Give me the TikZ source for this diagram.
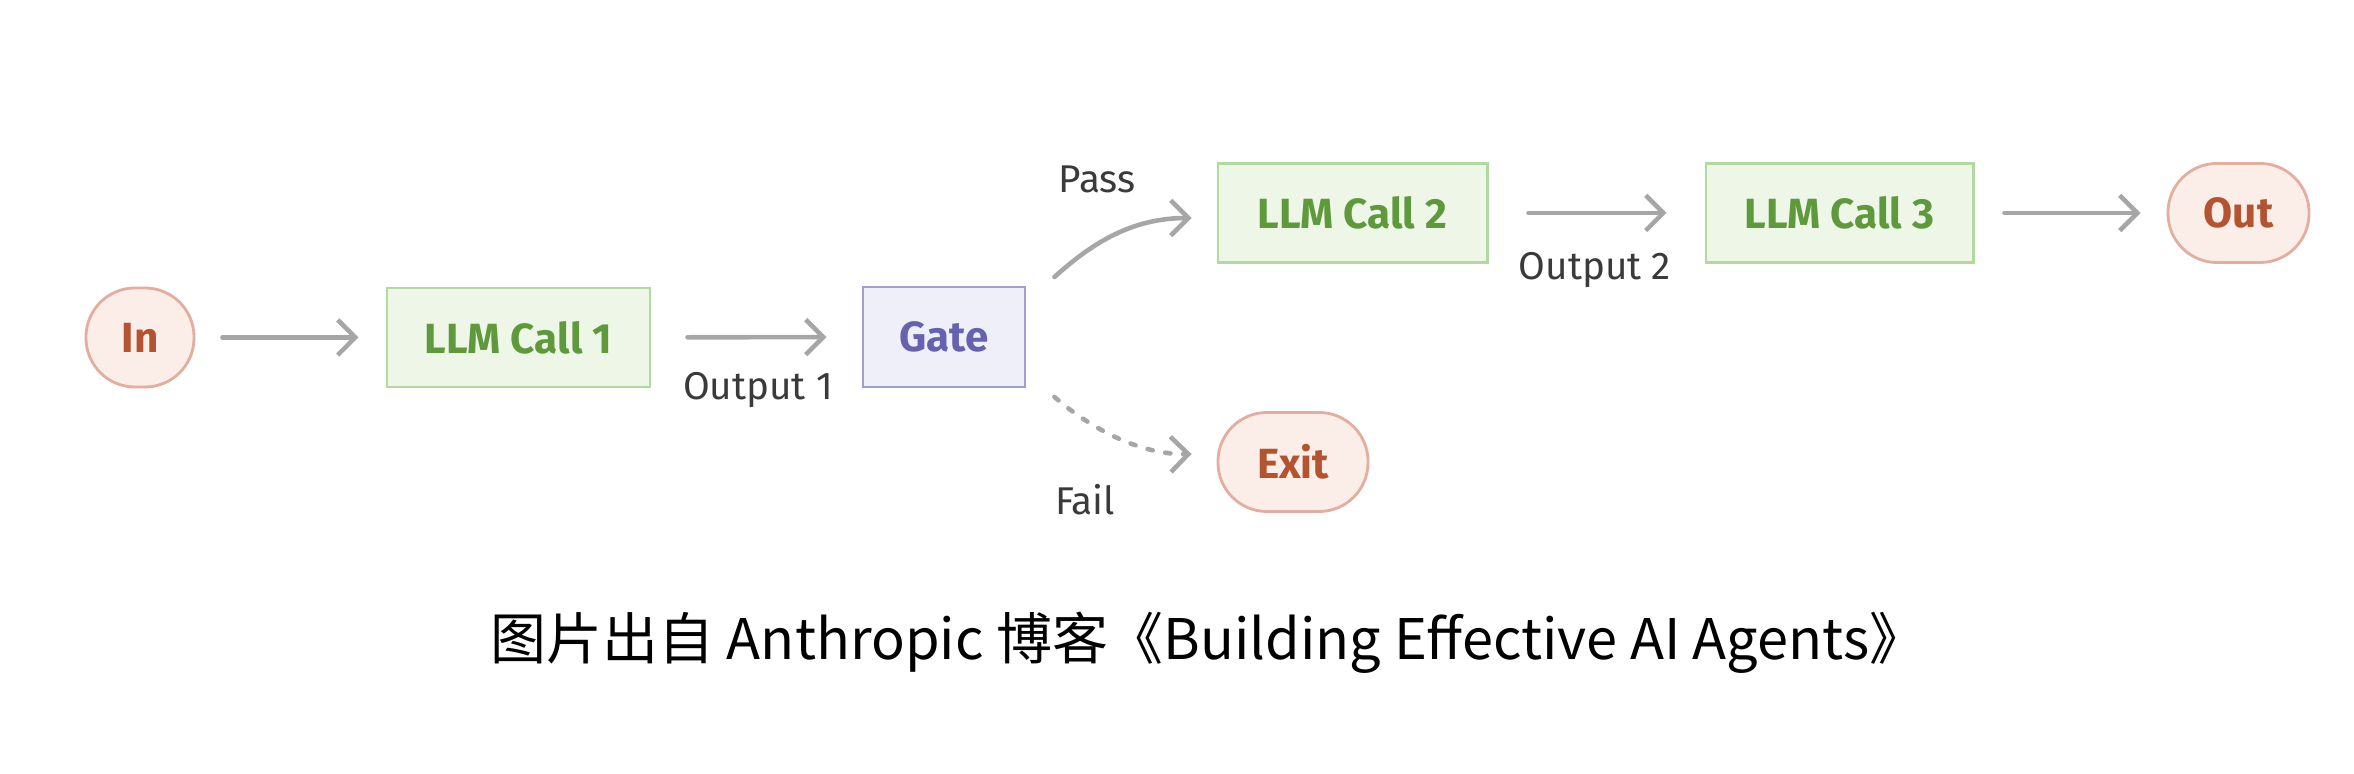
\documentclass[tikz,border=0pt]{standalone}
\usepackage{fontspec}
\setmainfont{Fira Sans}
\newfontfamily\cjk{Noto Sans CJK SC}
\usetikzlibrary{arrows.meta,calc}
\definecolor{termfill}{HTML}{FBEEE9}
\definecolor{termdraw}{HTML}{E3AE9E}
\definecolor{termtext}{HTML}{B4532F}
\definecolor{llmfill}{HTML}{EDF6E7}
\definecolor{llmdraw}{HTML}{B2D9A0}
\definecolor{llmtext}{HTML}{5E9A3B}
\definecolor{gatefill}{HTML}{EFEFF9}
\definecolor{gatedraw}{HTML}{A09ED3}
\definecolor{gatetext}{HTML}{6662AD}
\definecolor{arrowgray}{HTML}{A6A6A6}
\definecolor{labeltext}{HTML}{3A3A3A}
\begin{document}
\begin{tikzpicture}[x=0.01cm,y=-0.01cm,
  boxbase/.style={line width=0.8pt, inner sep=0pt, minimum height=0.99cm,
    font=\bfseries\fontsize{12}{14}\selectfont},
  term/.style={boxbase, draw=termdraw, fill=termfill, text=termtext, rounded corners=0.49cm},
  llm/.style={boxbase, draw=llmdraw, fill=llmfill, text=llmtext},
  gatebox/.style={boxbase, draw=gatedraw, fill=gatefill, text=gatetext},
  flow/.style={draw=arrowgray, line width=1.3pt, line cap=round,
    -{Straight Barb[length=5pt,width=10pt]}},
  lbl/.style={text=labeltext, inner sep=0pt, font=\fontsize{11}{13}\selectfont}]
\useasboundingbox (0,0) rectangle (2354,774);
\fill[white] (0,0) rectangle (2354,774);

\node[term, minimum width=1.08cm] (in) at (140,337.5) {In};
\node[llm, minimum width=2.63cm] (llm1) at (518.5,337.5) {LLM Call 1};
\node[gatebox, minimum width=1.62cm, minimum height=1.0cm] (gate) at (944,337) {Gate};
\node[llm, minimum width=2.69cm] (llm2) at (1352.5,213) {LLM Call 2};
\node[llm, minimum width=2.67cm] (llm3) at (1839.5,213) {LLM Call 3};
\node[term, minimum width=1.41cm] (out) at (2238.5,213) {Out};
\node[term, minimum width=1.50cm] (exit) at (1293,462) {Exit};

\draw[flow, shorten <=0.27cm, shorten >=0.27cm] (in) -- (llm1);
\draw[flow, shorten <=0.36cm, shorten >=0.35cm] (llm1) -- (gate);
\draw[flow, shorten <=0.40cm, shorten >=0.38cm] (llm2) -- (llm3);
\draw[flow, shorten <=0.30cm, shorten >=0.26cm] (llm3) -- (out);

\coordinate (ps) at ($(gate.east)+(28,-60)$);
\coordinate (pe) at ($(llm2.west)+(-25,5)$);
\draw[flow] (ps) .. controls (1090,245) and (1130,218) .. (pe);

\coordinate (fs) at ($(gate.east)+(28,60)$);
\coordinate (fe) at ($(exit.west)+(-25,-8)$);
\draw[flow, dash pattern=on 1.5pt off 3.6pt] (fs) .. controls (1090,428) and (1140,455) .. (fe);

\node[lbl] (o1) at (758,390) {Output 1};
\node[lbl] (o2) at (1595,270) {Output 2};
\node[lbl] (pass) at (1097,179) {Pass};
\node[lbl] (fail) at (1085,500) {Fail};

\node[inner sep=0pt, font=\cjk\fontsize{15.9}{19}\selectfont] (cap) at (1208,643)
  {图片出自 Anthropic 博客《Building Effective AI Agents》};
\end{tikzpicture}
\end{document}
